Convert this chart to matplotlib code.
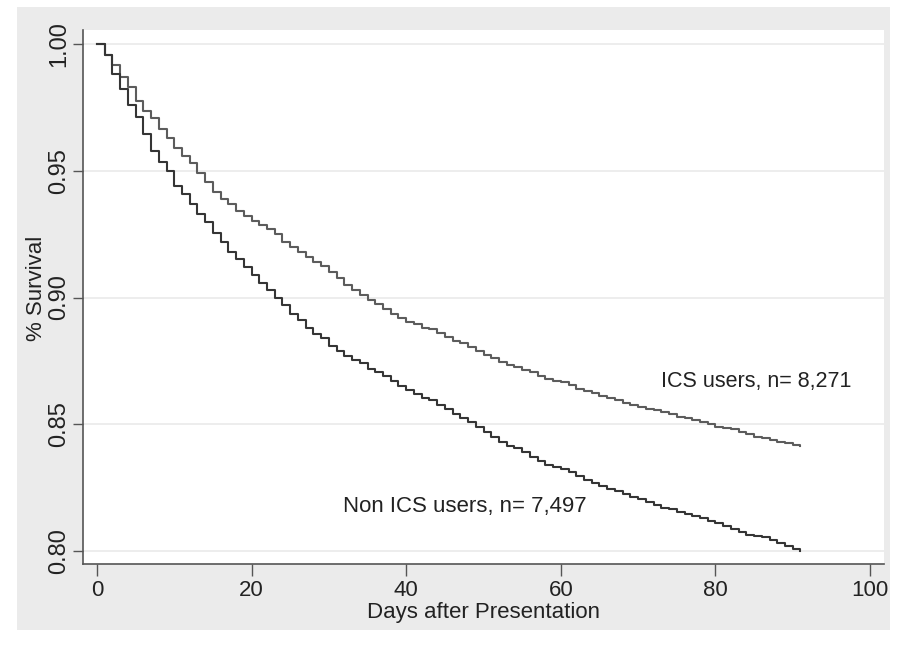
import matplotlib
matplotlib.use('agg')
import matplotlib.pyplot as plt
from matplotlib.patches import Rectangle

# days after presentation
days = list(range(0, 92))

# survival, ICS users (n = 8,271)
ics = [1.000, 0.9956, 0.9916, 0.987, 0.983, 0.9776, 0.9736, 0.9709, 0.9664, 0.9628,
       0.959, 0.956, 0.953, 0.949, 0.9456, 0.9416, 0.939, 0.937, 0.934, 0.932,
       0.930, 0.9285, 0.927, 0.925, 0.922, 0.920, 0.918, 0.916, 0.914, 0.9125,
       0.910, 0.9076, 0.905, 0.903, 0.901, 0.899, 0.8976, 0.8956, 0.8936, 0.892,
       0.8905, 0.8895, 0.888, 0.8875, 0.886, 0.8845, 0.883, 0.882, 0.8805, 0.879,
       0.8775, 0.876, 0.8745, 0.8735, 0.8725, 0.8715, 0.8705, 0.869, 0.868, 0.867,
       0.8665, 0.8655, 0.864, 0.863, 0.8622, 0.861, 0.8602, 0.8595, 0.8585, 0.8575,
       0.857, 0.856, 0.8555, 0.855, 0.854, 0.853, 0.8525, 0.8518, 0.851, 0.850,
       0.849, 0.8485, 0.848, 0.847, 0.846, 0.845, 0.8445, 0.844, 0.843, 0.8425,
       0.842, 0.8416]

# survival, non ICS users (n = 7,497)
non_ics = [1.000, 0.9956, 0.988, 0.9824, 0.976, 0.971, 0.9644, 0.9576, 0.9536, 0.950,
           0.944, 0.941, 0.937, 0.933, 0.9296, 0.9256, 0.922, 0.918, 0.915, 0.912,
           0.909, 0.9056, 0.903, 0.900, 0.897, 0.8936, 0.891, 0.888, 0.8856, 0.884,
           0.881, 0.879, 0.877, 0.8755, 0.874, 0.872, 0.8705, 0.869, 0.867, 0.865,
           0.8635, 0.862, 0.8605, 0.8595, 0.8575, 0.856, 0.854, 0.8525, 0.851, 0.849,
           0.847, 0.845, 0.843, 0.8415, 0.8405, 0.839, 0.837, 0.8355, 0.834, 0.833,
           0.8322, 0.831, 0.8295, 0.828, 0.827, 0.8255, 0.8245, 0.8235, 0.8225, 0.8215,
           0.8205, 0.8195, 0.818, 0.817, 0.8165, 0.8155, 0.8148, 0.8138, 0.813, 0.812,
           0.811, 0.8098, 0.8088, 0.8075, 0.8065, 0.806, 0.8055, 0.8045, 0.803, 0.802,
           0.801, 0.800]

xticks = [0, 20, 40, 60, 80, 100]
yticks = [0.80, 0.85, 0.90, 0.95, 1.00]

plt.rcParams['font.family'] = ['Liberation Sans', 'DejaVu Sans']

fig = plt.figure(figsize=(9.06, 6.5), dpi=100, facecolor='white')
# stata-like grey outer region
fig.patches.append(Rectangle((17 / 906, 1 - 630 / 650), (890 - 17) / 906, (630 - 7) / 650,
                             transform=fig.transFigure, facecolor='#ebebeb',
                             edgecolor='none', zorder=-10))

ax = fig.add_axes([83 / 906, 1 - 564 / 650, (884 - 83) / 906, (564 - 30) / 650])
ax.set_zorder(1)
ax.set_facecolor('white')

ax.step(days, ics, where='post', color='#5c5c5c', lw=1.5)
ax.step(days, non_ics, where='post', color='#353535', lw=1.5)

ax.set_xlim(-1.8, 101.8)
ax.set_ylim(0.7949, 1.0055)
ax.set_xticks(xticks)
ax.set_yticks(yticks)
ax.set_yticklabels(['%.2f' % v for v in yticks], rotation=90, va='center')
ax.grid(axis='y', color='#ececec', lw=1.3)
ax.set_axisbelow(True)

for s in ['top', 'right']:
    ax.spines[s].set_visible(False)
for s in ['left', 'bottom']:
    ax.spines[s].set_color('#555555')
    ax.spines[s].set_linewidth(1.2)
ax.tick_params(axis='both', colors='#555555', width=1.0, labelcolor='#222222')
ax.tick_params(axis='x', length=8.5, pad=3, labelsize=16)
ax.tick_params(axis='y', length=7, pad=2, labelsize=17)

ax.set_xlabel('Days after Presentation', fontsize=16, color='#222222', labelpad=1)
fig.text(37 / 906, 1 - 288 / 650, '% Survival', rotation=90, ha='center', va='center',
         fontsize=16, color='#222222')

ax.text(73.0, 0.8667, 'ICS users, n= 8,271', fontsize=15.5, color='#222222', va='center')
ax.text(31.8, 0.8174, 'Non ICS users, n= 7,497', fontsize=16, color='#222222', va='center')

fig.savefig('out.png', dpi=100, facecolor='white')
